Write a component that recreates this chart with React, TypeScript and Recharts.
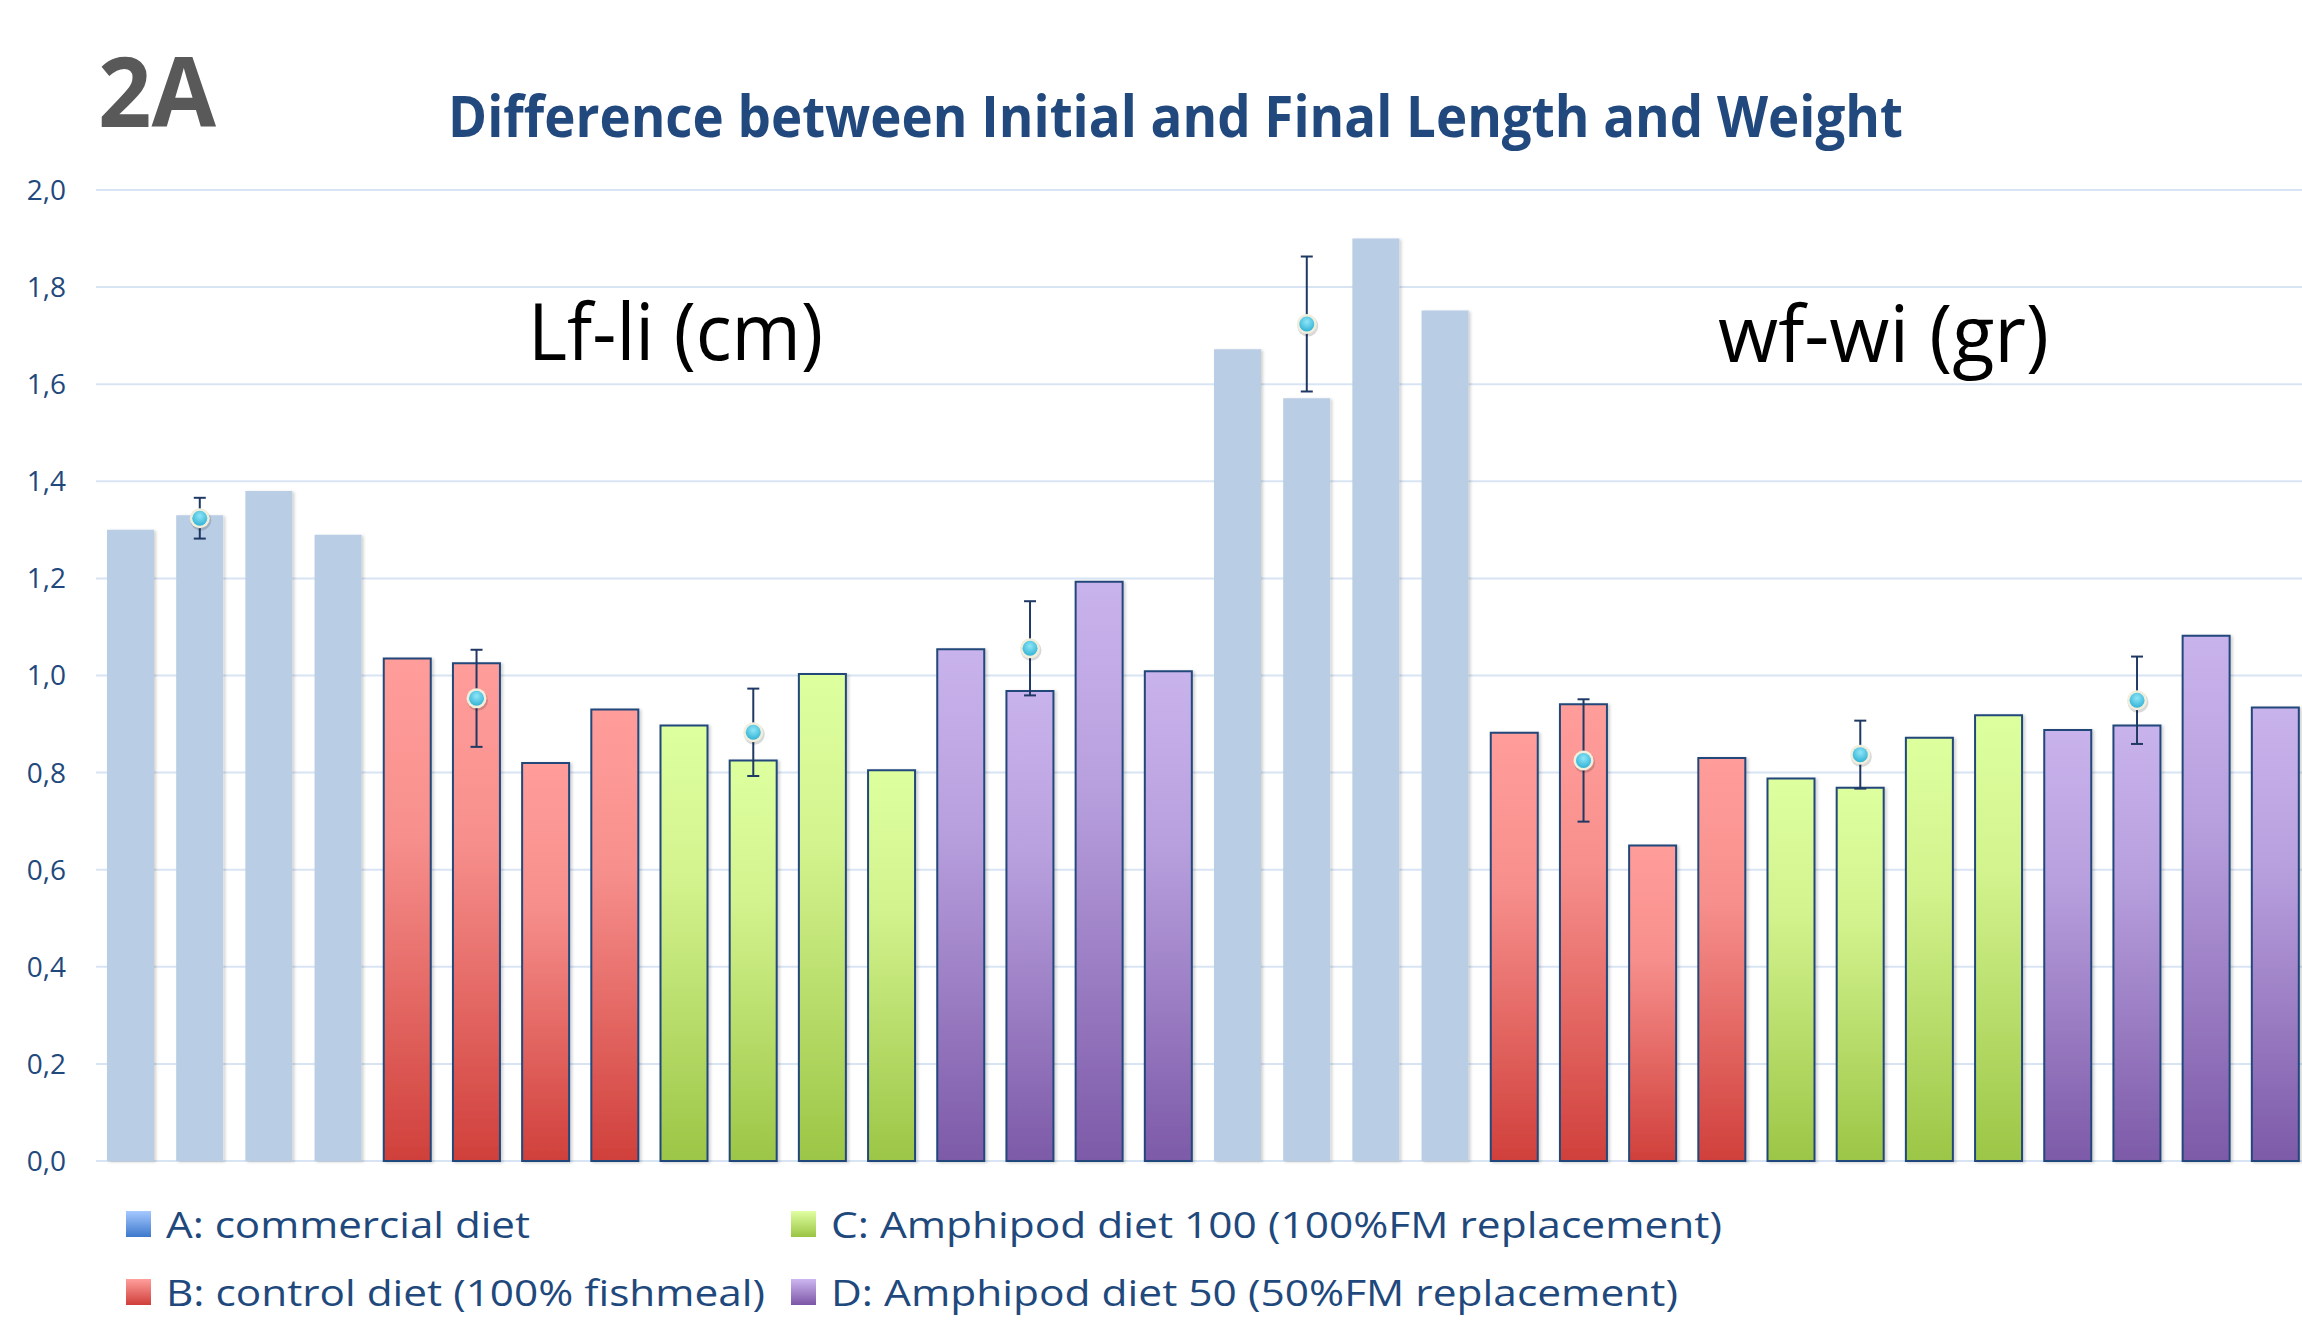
import React from 'react';
import { ComposedChart, Bar, Line, Cell, XAxis, YAxis, CartesianGrid, ErrorBar } from 'recharts';

const diets = ['A', 'B', 'C', 'D'];

// Lf-li (cm): four replicate tanks per diet
const lengthA = [1.3, 1.33, 1.38, 1.29];
const lengthB = [1.035, 1.025, 0.82, 0.93];
const lengthC = [0.897, 0.825, 1.003, 0.805];
const lengthD = [1.054, 0.968, 1.193, 1.009];
const lengthMean = [1.324, 0.953, 0.883, 1.056];
const lengthSd = [0.042, 0.1, 0.09, 0.097];

// wf-wi (gr)
const weightA = [1.672, 1.571, 1.9, 1.752];
const weightB = [0.882, 0.941, 0.65, 0.83];
const weightC = [0.788, 0.769, 0.872, 0.918];
const weightD = [0.888, 0.897, 1.082, 0.934];
const weightMean = [1.724, 0.825, 0.837, 0.949];
const weightSd = [0.139, 0.126, 0.07, 0.09];

const yTicks = [0, 0.2, 0.4, 0.6, 0.8, 1.0, 1.2, 1.4, 1.6, 1.8, 2.0];

const legendItems = [
  { diet: 'A', label: 'A: commercial diet' },
  { diet: 'C', label: 'C: Amphipod diet 100 (100%FM replacement)' },
  { diet: 'B', label: 'B: control diet (100% fishmeal)' },
  { diet: 'D', label: 'D: Amphipod diet 50 (50%FM replacement)' },
];

const buildRows = (prefix, groups, means, sds) =>
  groups.flatMap((vals, g) =>
    vals.map((v, i) => ({
      id: `${prefix}-${diets[g]}${i + 1}`,
      diet: diets[g],
      value: v,
      // the mean +- sd marker sits on the second bar of each diet
      mean: i === 1 ? means[g] : null,
      sd: i === 1 ? sds[g] : null,
    }))
  );

const data = [
  ...buildRows('L', [lengthA, lengthB, lengthC, lengthD], lengthMean, lengthSd),
  ...buildRows('W', [weightA, weightB, weightC, weightD], weightMean, weightSd),
];

const barFill = { A: '#B9CDE5', B: 'url(#gradB)', C: 'url(#gradC)', D: 'url(#gradD)' };
const legendFill = { A: 'url(#legA)', B: 'url(#legB)', C: 'url(#legC)', D: 'url(#legD)' };

const navy = '#1F497D';
const font = '"Open Sans", "Noto Sans", sans-serif';

const renderMeanDot = (props) => {
  const { cx, cy, value, index } = props;
  if (value == null || cy == null || isNaN(cy)) return <g key={`dot-${index}`} />;
  return (
    <g key={`dot-${index}`}>
      <circle cx={cx + 1} cy={cy + 2} r={10.5} fill="rgba(0,0,0,0.15)" />
      <circle cx={cx} cy={cy} r={10} fill="#F1EEDC" />
      <circle cx={cx} cy={cy} r={7.5} fill="url(#dotGrad)" />
    </g>
  );
};

const fmt = (v) => v.toFixed(1).replace('.', ',');

const App = () => (
  <div style={{ position: 'absolute', left: 0, top: 0, width: 2302, height: 1321, overflow: 'hidden', background: '#fff' }}>
    <ComposedChart width={2320} height={1321} data={data} margin={{ top: 190, right: 10, bottom: 160, left: 0 }}>
      <defs>
        <linearGradient id="gradB" x1="0" y1="0" x2="0" y2="1">
          <stop offset="0%" stopColor="#FF9D9A" />
          <stop offset="35%" stopColor="#F7908D" />
          <stop offset="100%" stopColor="#D0403B" />
        </linearGradient>
        <linearGradient id="gradC" x1="0" y1="0" x2="0" y2="1">
          <stop offset="0%" stopColor="#DDFF9E" />
          <stop offset="35%" stopColor="#D3F38E" />
          <stop offset="100%" stopColor="#9CC646" />
        </linearGradient>
        <linearGradient id="gradD" x1="0" y1="0" x2="0" y2="1">
          <stop offset="0%" stopColor="#C9B3EC" />
          <stop offset="35%" stopColor="#B8A0DE" />
          <stop offset="100%" stopColor="#7D5AA8" />
        </linearGradient>
        <radialGradient id="dotGrad" cx="50%" cy="35%" r="65%">
          <stop offset="0%" stopColor="#8FE6F7" />
          <stop offset="100%" stopColor="#33B3D6" />
        </radialGradient>
        <filter id="barShadow" x="-10%" y="-5%" width="130%" height="110%">
          <feDropShadow dx="2" dy="1" stdDeviation="1.5" floodColor="#000" floodOpacity="0.18" />
        </filter>
      </defs>
      <CartesianGrid vertical={false} stroke="#D8E4F3" strokeWidth={2} />
      <XAxis dataKey="id" hide />
      <YAxis
        domain={[0, 2]}
        ticks={yTicks}
        tickFormatter={fmt}
        width={96}
        axisLine={false}
        tickLine={false}
        tickSize={0}
        tickMargin={30}
        tick={{ fill: navy, fontSize: 28, fontFamily: font }}
      />
      <Bar dataKey="value" barSize={47} isAnimationActive={false}>
        {data.map((d) => (
          <Cell
            key={d.id}
            fill={barFill[d.diet]}
            stroke={d.diet === 'A' ? 'none' : '#23477A'}
            strokeWidth={d.diet === 'A' ? 0 : 2}
            filter="url(#barShadow)"
          />
        ))}
      </Bar>
      <Line
        dataKey="mean"
        stroke="transparent"
        dot={renderMeanDot}
        activeDot={false}
        connectNulls={false}
        isAnimationActive={false}
      >
        <ErrorBar dataKey="sd" width={6} stroke="#1F3864" strokeWidth={2} direction="y" />
      </Line>
    </ComposedChart>

    <svg width={2302} height={1321} style={{ position: 'absolute', left: 0, top: 0, pointerEvents: 'none' }}>
      <defs>
        <linearGradient id="legA" x1="0" y1="0" x2="0" y2="1">
          <stop offset="0%" stopColor="#A6C9FF" />
          <stop offset="100%" stopColor="#3C78CC" />
        </linearGradient>
        <linearGradient id="legB" x1="0" y1="0" x2="0" y2="1">
          <stop offset="0%" stopColor="#FF9F9C" />
          <stop offset="100%" stopColor="#CF3E3A" />
        </linearGradient>
        <linearGradient id="legC" x1="0" y1="0" x2="0" y2="1">
          <stop offset="0%" stopColor="#E0FFA2" />
          <stop offset="100%" stopColor="#9AC443" />
        </linearGradient>
        <linearGradient id="legD" x1="0" y1="0" x2="0" y2="1">
          <stop offset="0%" stopColor="#CDB6F1" />
          <stop offset="100%" stopColor="#7C56A6" />
        </linearGradient>
      </defs>

      <text x={98} y={127} fontFamily={font} fontWeight={700} fontSize={96} fill="#595959" textLength={118} lengthAdjust="spacingAndGlyphs">
        2A
      </text>
      <text x={448} y={137} fontFamily={font} fontWeight={700} fontSize={58} fill="#22497E" textLength={1455} lengthAdjust="spacingAndGlyphs">
        Difference between Initial and Final Length and Weight
      </text>
      <text x={528} y={360} fontFamily={font} fontSize={79} fill="#000" textLength={295} lengthAdjust="spacingAndGlyphs">
        Lf-li (cm)
      </text>
      <text x={1718} y={362} fontFamily={font} fontSize={79} fill="#000" textLength={331} lengthAdjust="spacingAndGlyphs">
        wf-wi (gr)
      </text>

      {legendItems.map((item, i) => {
        const col = i % 2;
        const row = Math.floor(i / 2);
        const x = col === 0 ? 126 : 791;
        const y = row === 0 ? 1238 : 1306;
        const widths = [364, 891, 599, 847];
        return (
          <g key={item.diet}>
            <rect x={x} y={y - 27} width={25} height={26} fill={legendFill[item.diet]} />
            <text x={x + 40} y={y} fontFamily={font} fontSize={36} fill={navy} textLength={widths[i]} lengthAdjust="spacingAndGlyphs">
              {item.label}
            </text>
          </g>
        );
      })}
    </svg>
  </div>
);

export default App;
